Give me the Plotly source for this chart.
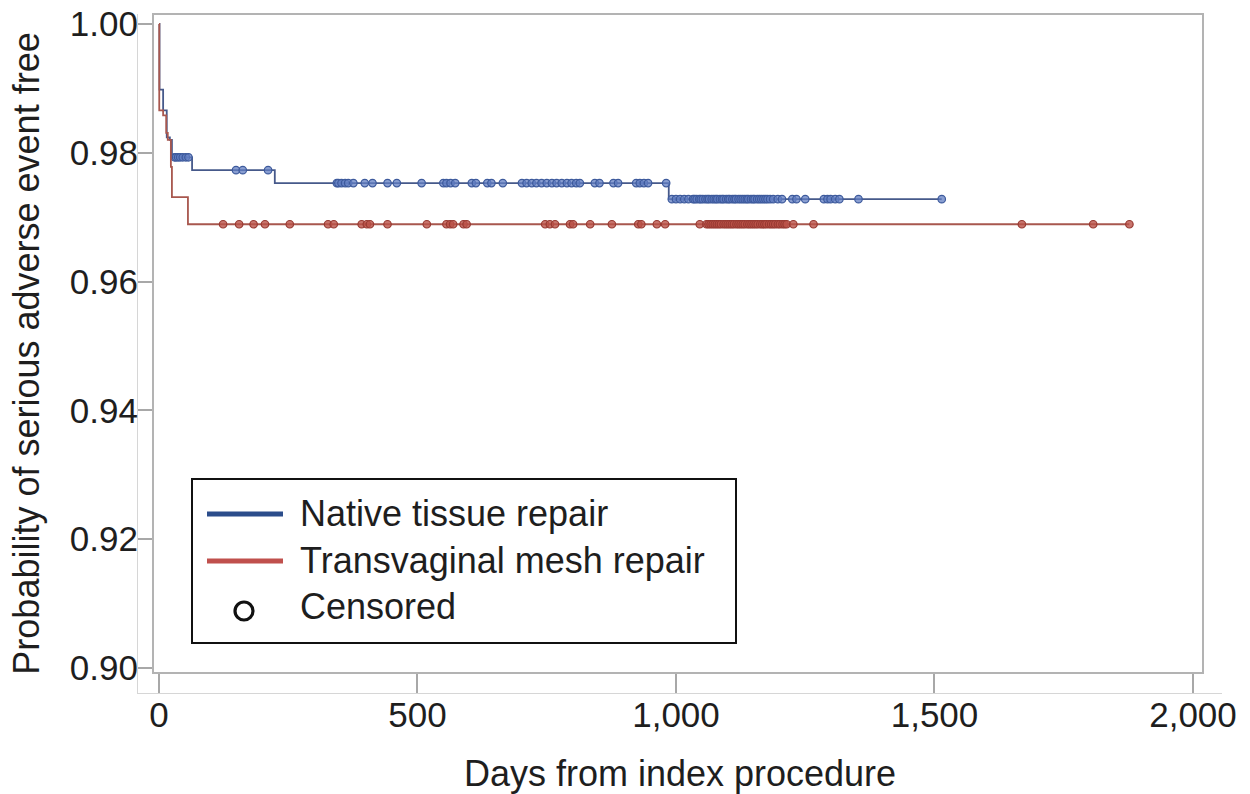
import numpy as np
import plotly.graph_objects as go

# ---------------- data ----------------
# Kaplan-Meier step functions: day of each step and survival after it
native_event_days = [0, 1, 8, 15, 21, 25, 64, 224, 986]
native_survival = [1.0, 0.9898, 0.9866, 0.9824, 0.9820, 0.9793, 0.9773, 0.9753, 0.9728]
native_last_day = 1514

mesh_event_days = [0, 0.5, 8, 14, 17, 23, 25, 56]
mesh_survival = [1.0, 0.9866, 0.9858, 0.9831, 0.9820, 0.9778, 0.9731, 0.9689]
mesh_last_day = 1877

# censored observations (days)
native_censored_days = [
    30, 33, 37, 41, 46, 52, 57,
    149, 162, 211,
    344, 347, 353, 360, 366, 376, 398, 413, 442, 460, 508, 550, 556, 564, 573,
    605, 613, 635, 643, 665, 702, 711, 721, 730, 740, 750, 760, 769, 779, 789,
    798, 807, 814, 843, 852, 879, 888, 923, 930, 938, 946, 981,
    992, 1000, 1008, 1016, 1024, 1033, 1036, 1040, 1045, 1048, 1052, 1057, 1061,
    1064, 1069, 1073, 1077, 1080, 1085, 1089, 1092, 1097, 1101, 1104, 1109, 1113,
    1116, 1121, 1125, 1129, 1133, 1137, 1140, 1145, 1149, 1152, 1157, 1161, 1165,
    1169, 1173, 1177, 1182, 1188, 1197, 1205, 1225, 1233, 1250, 1286, 1293, 1299,
    1308, 1316, 1353, 1514,
]
mesh_censored_days = [
    124, 155, 183, 205, 253, 327, 338, 392, 402, 408, 442, 518, 556, 563, 569,
    589, 595, 747, 756, 766, 795, 801, 834, 876, 927, 933, 963, 979, 1046,
    1059, 1063, 1067, 1071, 1075, 1079, 1083, 1087, 1092, 1096, 1100, 1104, 1108,
    1112, 1117, 1121, 1125, 1129, 1133, 1138, 1142, 1146, 1150, 1154, 1158, 1163,
    1167, 1171, 1175, 1180, 1184, 1188, 1192, 1197, 1201, 1206, 1210, 1214,
    1227, 1266, 1669, 1807, 1877,
]

series_names = ["Native tissue repair", "Transvaginal mesh repair"]
censored_label = "Censored"
x_tick_values = [0, 500, 1000, 1500, 2000]
y_tick_values = [0.90, 0.92, 0.94, 0.96, 0.98, 1.00]
x_title = "Days from index procedure"
y_title = "Probability of serious adverse event free"

# ---------------- styling ----------------
FONT = "Liberation Sans, Arial, Helvetica, sans-serif"
TXT = "#1e1e1e"
line_colors = ["#46598a", "#a8574e"]
marker_fill = ["rgba(98,126,194,0.75)", "rgba(186,82,72,0.80)"]
marker_edge = ["#3d5a9c", "#983a32"]
legend_colors = ["#2b4d8b", "#c0504d"]

# the page body margin is removed (see post_script), so figure px == page px
W, H = 1250, 794
PL, PR, PT, PB = 138, 1222, 14, 693          # plot area in page pixels
ML, MR, MT, MB = PL, W - PR, PT, H - PB


def step_value(days, surv, t):
    idx = np.searchsorted(np.asarray(days, float), np.asarray(t, float), side="right") - 1
    return np.asarray(surv)[idx]


fig = go.Figure()

for name, ev, sv, last, cens, lc, mf, me in [
    (series_names[0], native_event_days, native_survival, native_last_day,
     native_censored_days, line_colors[0], marker_fill[0], marker_edge[0]),
    (series_names[1], mesh_event_days, mesh_survival, mesh_last_day,
     mesh_censored_days, line_colors[1], marker_fill[1], marker_edge[1]),
]:
    xs = list(ev) + [last]
    ys = list(sv) + [sv[-1]]
    fig.add_trace(go.Scatter(
        x=xs, y=ys, mode="lines", line=dict(color=lc, width=1.8, shape="hv"),
        name=name, showlegend=False, hoverinfo="skip"))
    fig.add_trace(go.Scatter(
        x=cens, y=step_value(ev, sv, cens), mode="markers",
        marker=dict(symbol="circle", size=7.5, color=mf, line=dict(color=me, width=1.2)),
        name=censored_label, showlegend=False))


# page pixel -> paper coordinate
def px_x(p):
    return (p - PL) / (PR - PL)


def px_y(p):
    return (PB - p) / (PB - PT)


# plot frame (inner box)
fig.add_shape(type="rect", xref="paper", yref="paper",
              x0=px_x(153), x1=px_x(1203), y0=px_y(673), y1=px_y(14),
              line=dict(color="#b3b3b3", width=2), layer="below")

# manual legend
fig.add_shape(type="rect", xref="paper", yref="paper",
              x0=px_x(192), x1=px_x(736), y0=px_y(643), y1=px_y(479),
              line=dict(color="#111111", width=2), fillcolor="white")
legend_rows = [514, 561, 611]
for i in range(2):
    fig.add_shape(type="line", xref="paper", yref="paper",
                  x0=px_x(207), x1=px_x(283), y0=px_y(legend_rows[i]), y1=px_y(legend_rows[i]),
                  line=dict(color=legend_colors[i], width=5))
fig.add_shape(type="circle", xref="paper", yref="paper",
              xsizemode="pixel", ysizemode="pixel",
              xanchor=px_x(244), yanchor=px_y(legend_rows[2]),
              x0=-9, x1=9, y0=-9, y1=9,
              line=dict(color="#111111", width=3.2))
for label, row in zip(series_names + [censored_label], [513, 560, 606]):
    fig.add_annotation(xref="paper", yref="paper", x=px_x(298), y=px_y(row),
                       text=label, showarrow=False, xanchor="left", yanchor="middle",
                       font=dict(family=FONT, size=36, color=TXT))

fig.update_layout(
    width=W, height=H,
    margin=dict(l=ML, r=MR, t=MT, b=MB, autoexpand=False),
    paper_bgcolor="white", plot_bgcolor="white",
    showlegend=False,
    font=dict(family=FONT, color=TXT),
)
fig.update_xaxes(
    range=[-40.6, 2056.1], tickvals=x_tick_values, tickformat=",",
    showgrid=False, zeroline=False,
    showline=True, linecolor="#d6d6d6", linewidth=1.2,
    ticks="inside", ticklen=19, tickcolor="#a8a8a8", tickwidth=1.5,
    ticklabelstandoff=-9, ticklabeloverflow="allow",
    tickfont=dict(family=FONT, size=35, color=TXT),
    title=dict(text=x_title, font=dict(family=FONT, size=36, color=TXT), standoff=31),
    automargin=False,
)
fig.update_yaxes(
    range=[0.896118, 1.00155], tickvals=y_tick_values, tickformat=".2f",
    showgrid=False, zeroline=False,
    showline=True, linecolor="#d6d6d6", linewidth=1.2,
    ticks="inside", ticklen=14, tickcolor="#a8a8a8", tickwidth=1.5,
    ticklabelstandoff=-8, ticklabeloverflow="allow",
    tickfont=dict(family=FONT, size=35, color=TXT),
    title=dict(text=y_title, font=dict(family=FONT, size=36, color=TXT), standoff=19),
    automargin=False,
)

fig.write_html(
    "out.html",
    config={"displayModeBar": False},
    post_script="document.body.style.margin='0';document.body.style.overflow='hidden';",
)
